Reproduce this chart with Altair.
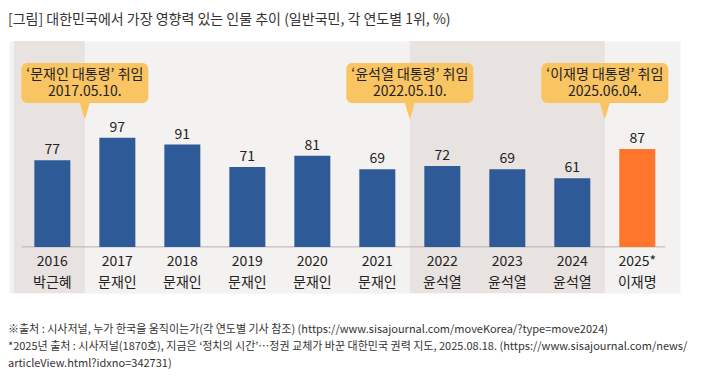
import altair as alt
import pandas as pd

# ---------------- data ----------------
years = ["2016", "2017", "2018", "2019", "2020", "2021", "2022", "2023", "2024", "2025*"]
leaders = ["박근혜", "문재인", "문재인", "문재인", "문재인", "문재인", "윤석열", "윤석열", "윤석열", "이재명"]
shares = [77, 97, 91, 71, 81, 69, 72, 69, 61, 87]
inaug_leaders = ["문재인", "윤석열", "이재명"]
inaug_dates = ["2017.05.10.", "2022.05.10.", "2025.06.04."]
title_text = "[그림] 대한민국에서 가장 영향력 있는 인물 추이 (일반국민, 각 연도별 1위, %)"
notes = [
    "※출처 : 시사저널, 누가 한국을 움직이는가(각 연도별 기사 참조) (https://www.sisajournal.com/moveKorea/?type=move2024)",
    "*2025년 출처 : 시사저널(1870호), 지금은 ‘정치의 시간’…정권 교체가 바꾼 대한민국 권력 지도, 2025.08.18. (https://www.sisajournal.com/news/",
    "articleView.html?idxno=342731)",
]

# ---------------- layout / style ----------------
FONT = "Noto Sans CJK KR"
W, H = 671, 252
X_MIN, X_MAX = -0.59, 9.58
Y_MIN, Y_MAX = -41, 183
BLUE = "#2e5b98"
ORANGE = "#ff752b"
PANEL = "#f4f2f0"
SHADE = "#e8e3e0"
CALLOUT = "#f9c462"
TEXT = "#222222"

bars = pd.DataFrame({"idx": list(range(len(years))), "year": years,
                     "leader": leaders, "share": shares})

# presidential terms -> alternate shading
terms = []
for i, l in enumerate(leaders):
    if terms and terms[-1][0] == l:
        terms[-1][2] = i
    else:
        terms.append([l, i, i])
shade_rows = []
for k, (l, s, e) in enumerate(terms):
    if k % 2 == 0:
        x0 = X_MIN if s == 0 else s - 0.5
        x1 = X_MAX if e == len(leaders) - 1 else e + 0.5
        shade_rows.append({"x0": x0, "x1": x1})
shade = pd.DataFrame(shade_rows)

callouts = pd.DataFrame({
    "pos": [leaders.index(l) - 0.5 for l in inaug_leaders],
    "label": [f"‘{l} 대통령’ 취임\n{d}" for l, d in zip(inaug_leaders, inaug_dates)],
})

baseline_df = pd.DataFrame({"x0": [-0.47], "x1": [len(years) - 1 + 0.43], "y": [0]})
notes_df = pd.DataFrame({"t": ["\n".join(notes)]})

xscale = alt.Scale(domain=[X_MIN, X_MAX], nice=False, zero=False)
yscale = alt.Scale(domain=[Y_MIN, Y_MAX], nice=False, zero=False)
X = alt.X("idx:Q", scale=xscale, axis=None)

shade_layer = alt.Chart(shade).mark_rect(color=SHADE).encode(
    x=alt.X("x0:Q", scale=xscale, axis=None),
    x2="x1:Q",
    y=alt.value(0),
    y2=alt.value(H),
)

base_rule = alt.Chart(baseline_df).mark_rule(color="#b5b2b0", strokeWidth=1).encode(
    x=alt.X("x0:Q", scale=xscale, axis=None),
    x2="x1:Q",
    y=alt.Y("y:Q", scale=yscale, axis=None),
)

bar_layer = alt.Chart(bars).mark_bar(width=36).encode(
    x=X,
    y=alt.Y("share:Q", scale=yscale, axis=None),
    color=alt.condition(alt.datum.year == "2025*", alt.value(ORANGE), alt.value(BLUE)),
)

value_layer = alt.Chart(bars).mark_text(
    baseline="alphabetic", dy=-6, fontSize=14, font=FONT, color=TEXT
).encode(
    x=X,
    y=alt.Y("share:Q", scale=yscale, axis=None),
    text="share:Q",
)

year_labels = alt.Chart(bars).mark_text(
    baseline="middle", fontSize=14, font=FONT, color=TEXT
).encode(x=X, y=alt.value(221), text="year:N")

leader_labels = alt.Chart(bars).mark_text(
    baseline="middle", fontSize=14, font=FONT, color=TEXT
).encode(x=X, y=alt.value(242), text="leader:N")

box_layer = alt.Chart(callouts).mark_rect(
    color=CALLOUT, cornerRadius=6, xOffset=-63.5, x2Offset=63.5
).encode(
    x=alt.X("pos:Q", scale=xscale, axis=None),
    x2="pos:Q",
    y=alt.value(22),
    y2=alt.value(62),
)

pointer_layer = alt.Chart(callouts).mark_point(
    shape="M-0.6,-1L0.6,-1L0,1Z", filled=True, size=289, color=CALLOUT, opacity=1
).encode(
    x=alt.X("pos:Q", scale=xscale, axis=None),
    y=alt.value(70),
)

callout_text = alt.Chart(callouts).mark_text(
    lineBreak="\n", lineHeight=17, fontSize=14, font=FONT, color=TEXT,
    baseline="middle", align="center"
).encode(
    x=alt.X("pos:Q", scale=xscale, axis=None),
    y=alt.value(34),
    text="label:N",
)

notes_layer = alt.Chart(notes_df).mark_text(
    lineBreak="\n", lineHeight=17, fontSize=11, font=FONT, color="#333333",
    align="left", baseline="top"
).encode(
    x=alt.value(-1),
    y=alt.value(283),
    text="t:N",
)

chart = alt.layer(
    shade_layer, base_rule, bar_layer, value_layer, year_labels, leader_labels,
    box_layer, pointer_layer, callout_text, notes_layer
).properties(
    width=W, height=H,
    title=alt.Title(title_text, anchor="start", fontSize=14, font=FONT,
                    fontWeight="normal", color="#333333", offset=14),
    autosize=alt.AutoSizeParams(type="none"),
    padding={"left": 1, "top": 33, "right": 19, "bottom": 81},
).configure_view(fill=PANEL, stroke="transparent")

chart.save("out.html", embed_options={"renderer": "svg", "actions": False})
